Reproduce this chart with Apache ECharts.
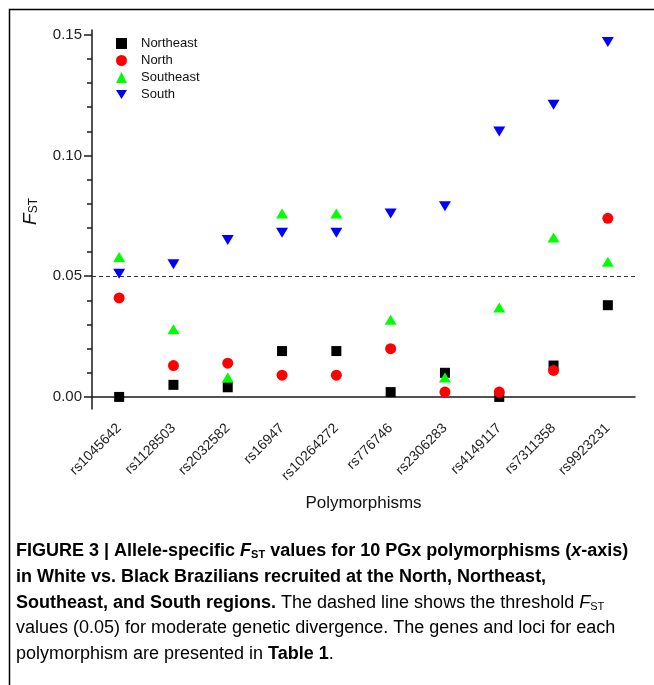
<!DOCTYPE html>
<html><head><meta charset="utf-8">
<script src="https://cdn.jsdelivr.net/npm/echarts@6/dist/echarts.min.js"></script>
<style>html,body{margin:0;padding:0;background:#fff}#c{width:654px;height:685px}</style>
</head><body><div id="c"></div>
<script>
const categories = ['rs1045642','rs1128503','rs2032582','rs16947','rs10264272','rs776746','rs2306283','rs4149117','rs7311358','rs9923231'];
const northeast = [0.000, 0.005, 0.004, 0.019, 0.019, 0.002, 0.010, 0.000, 0.013, 0.038];
const north     = [0.041, 0.013, 0.014, 0.009, 0.009, 0.020, 0.002, 0.002, 0.011, 0.074];
const southeast = [0.058, 0.028, 0.008, 0.076, 0.076, 0.032, 0.008, 0.037, 0.066, 0.056];
const south     = [0.051, 0.055, 0.065, 0.068, 0.068, 0.076, 0.079, 0.110, 0.121, 0.147];
const majorTicks = [0, 0.05, 0.10, 0.15];
const minorTicks = [0.01,0.02,0.03,0.04,0.06,0.07,0.08,0.09,0.11,0.12,0.13,0.14];
const threshold = 0.05;

const FONT = '"Liberation Sans", Arial, sans-serif';
const CAP = '"Liberation Sans Narrow", "Liberation Sans", Arial, sans-serif';
const chart = echarts.init(document.getElementById('c'), null, {renderer:'canvas'});
const axisCol = '#1a1a1a';
const capSize = 18;
const capRich = {
  b:{fontFamily:CAP,fontWeight:'bold',fontSize:capSize,color:'#111'},
  bi:{fontFamily:CAP,fontWeight:'bold',fontStyle:'italic',fontSize:capSize,color:'#111'},
  bs:{fontFamily:CAP,fontWeight:'bold',fontSize:11,color:'#111',verticalAlign:'bottom',padding:[6,0,0,0]},
  r:{fontFamily:CAP,fontSize:capSize,color:'#222'},
  ri:{fontFamily:CAP,fontStyle:'italic',fontSize:capSize,color:'#222'},
  rs:{fontFamily:CAP,fontSize:11,color:'#222',verticalAlign:'bottom',padding:[6,0,0,0]}
};
const capLines = [
  '{b|FIGURE 3 | Allele-specific }{bi|F}{bs|ST}{b| values for 10 PGx polymorphisms (}{bi|x}{b|-axis)}',
  '{b|in White vs. Black Brazilians recruited at the North, Northeast,}',
  '{b|Southeast, and South regions.}{r| The dashed line shows the threshold }{ri|F}{rs|ST}',
  '{r|values (0.05) for moderate genetic divergence. The genes and loci for each}',
  '{r|polymorphism are presented in }{b|Table 1}{r|.}'
];
const capY = [553, 579, 605, 630, 656];
const graphics = [{type:'rect',shape:{x:9.5,y:9.5,width:800,height:800},style:{fill:'none',stroke:'#000',lineWidth:1.5},silent:true}];
capLines.forEach((t,i)=>graphics.push({type:'text',left:16,top:capY[i]-11,style:{text:t,rich:capRich}}));

const downTri = 'path://M0,0L12,0L6,10Z';
chart.setOption({
  animation:false,
  backgroundColor:'#fff',
  textStyle:{fontFamily:FONT},
  graphic:graphics,
  grid:{left:92,right:19,top:30,bottom:276,containLabel:false},
  legend:{orient:'vertical',left:111,top:32,itemWidth:11,itemHeight:11,itemGap:4,
    formatter:n=>'{t|'+n+'}',
    textStyle:{fontSize:13,color:'#111',fontFamily:FONT,rich:{t:{fontSize:13,color:'#111',fontFamily:FONT,padding:[0,0,0,9]}}},
    data:['Northeast','North','Southeast','South']},
  xAxis:{type:'category',data:categories,boundaryGap:true,
    name:'Polymorphisms',nameLocation:'middle',nameGap:86,
    nameTextStyle:{fontSize:17,color:'#111',fontFamily:FONT},
    axisLine:{lineStyle:{color:axisCol,width:1.5}},
    axisTick:{alignWithLabel:true,length:6,lineStyle:{color:axisCol,width:1.5}},
    axisLabel:{rotate:45,fontSize:14,color:'#222',margin:17,interval:0},
    splitLine:{show:false}},
  yAxis:[{type:'value',min:-0.005,max:0.152,
    name:'{i|F}{s|ST}',nameLocation:'middle',nameRotate:90,nameGap:52,
    nameTextStyle:{padding:[0,0,0,16],rich:{i:{fontSize:19,fontStyle:'italic',color:'#111',fontFamily:FONT},s:{fontSize:12,color:'#111',fontFamily:FONT,verticalAlign:'bottom'}}},
    axisLine:{show:true,lineStyle:{color:axisCol,width:1.5}},
    axisTick:{show:true,length:8,customValues:majorTicks,lineStyle:{color:axisCol,width:1.5}},
    axisLabel:{show:true,fontSize:15,color:'#222',margin:10,customValues:majorTicks,formatter:v=>Number(v).toFixed(2)},
    splitLine:{show:false}},
   {type:'value',min:-0.005,max:0.152,position:'left',
    axisLine:{show:false},
    axisTick:{show:true,length:5,customValues:minorTicks,lineStyle:{color:axisCol,width:1.5}},
    axisLabel:{show:false},splitLine:{show:false}}],
  series:[
    {name:'Northeast',type:'scatter',data:northeast,symbol:'rect',symbolSize:10,itemStyle:{color:'#000',opacity:1},
     markLine:{silent:true,symbol:'none',label:{show:false},lineStyle:{color:'#333',type:[4,3],width:1},data:[{yAxis:threshold}]}},
    {name:'North',type:'scatter',data:north,symbol:'circle',symbolSize:11,itemStyle:{color:'#ff0000',opacity:1}},
    {name:'Southeast',type:'scatter',data:southeast,symbol:'triangle',symbolSize:[12,10],itemStyle:{color:'#00ff00',opacity:1}},
    {name:'South',type:'scatter',data:south,symbol:downTri,symbolSize:[12,10],itemStyle:{color:'#0000ff',opacity:1}}
  ]
});
</script></body></html>
